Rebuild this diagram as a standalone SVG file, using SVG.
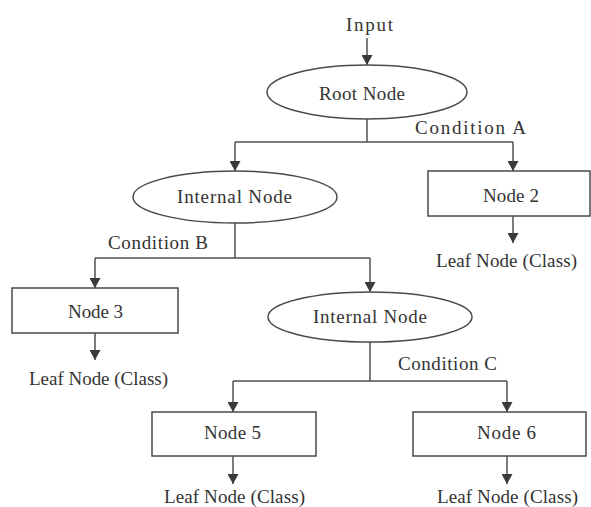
<svg xmlns="http://www.w3.org/2000/svg" width="591" height="507" viewBox="0 0 591 507">
  <style>
    .shape { fill: #ffffff; stroke: #4a4a4a; stroke-width: 1.5; }
    .wire { fill: none; stroke: #505050; stroke-width: 1.5; }
    .lbl { font-family: "Liberation Serif", "Times New Roman", serif; font-size: 19px; fill: #333333; }
  </style>
  <defs>
    <marker id="arrow" viewBox="0 0 10 11" refX="10" refY="5.5" markerWidth="10" markerHeight="11" markerUnits="userSpaceOnUse" orient="auto">
      <path d="M0,0 L10,5.5 L0,11 Z" fill="#3a3a3a"/>
    </marker>
  </defs>

  <rect width="591" height="507" fill="#ffffff"/>

  <!-- connectors -->
  <g id="connectors">
    <line class="wire" x1="367" y1="38" x2="367" y2="65" marker-end="url(#arrow)"/>
    <polyline class="wire" points="367,119 367,142"/>
    <polyline class="wire" points="235,142 513,142"/>
    <line class="wire" x1="235" y1="142" x2="235" y2="171" marker-end="url(#arrow)"/>
    <line class="wire" x1="513" y1="142" x2="513" y2="171" marker-end="url(#arrow)"/>
    <line class="wire" x1="513" y1="216" x2="513" y2="243" marker-end="url(#arrow)"/>

    <polyline class="wire" points="235,223 235,258"/>
    <polyline class="wire" points="95,258 370,258"/>
    <line class="wire" x1="95" y1="258" x2="95" y2="288" marker-end="url(#arrow)"/>
    <line class="wire" x1="370" y1="258" x2="370" y2="292" marker-end="url(#arrow)"/>
    <line class="wire" x1="95" y1="333" x2="95" y2="360" marker-end="url(#arrow)"/>

    <polyline class="wire" points="370,342 370,381"/>
    <polyline class="wire" points="233,381 507,381"/>
    <line class="wire" x1="233" y1="381" x2="233" y2="412" marker-end="url(#arrow)"/>
    <line class="wire" x1="507" y1="381" x2="507" y2="412" marker-end="url(#arrow)"/>
    <line class="wire" x1="233" y1="456" x2="233" y2="484" marker-end="url(#arrow)"/>
    <line class="wire" x1="507" y1="456" x2="507" y2="484" marker-end="url(#arrow)"/>

    <text class="lbl" x="415" y="134" textLength="111" lengthAdjust="spacing">Condition A</text>
    <text class="lbl" x="108" y="249" textLength="100" lengthAdjust="spacing">Condition B</text>
    <text class="lbl" x="398" y="370" textLength="99" lengthAdjust="spacing">Condition C</text>
  </g>

  <g id="input">
    <text class="lbl" x="346" y="31" textLength="47" lengthAdjust="spacing">Input</text>
  </g>

  <g id="root-node">
    <ellipse class="shape" cx="367" cy="92" rx="100" ry="27"/>
    <text class="lbl" x="319" y="100" textLength="86" lengthAdjust="spacing">Root Node</text>
  </g>

  <g id="internal-node-1">
    <ellipse class="shape" cx="235" cy="197" rx="102" ry="26"/>
    <text class="lbl" x="177" y="203" textLength="115" lengthAdjust="spacing">Internal Node</text>
  </g>

  <g id="node-2">
    <rect class="shape" x="428" y="171" width="162" height="45"/>
    <text class="lbl" x="483" y="202" textLength="56" lengthAdjust="spacing">Node 2</text>
    <text class="lbl" x="436" y="267" textLength="141" lengthAdjust="spacing">Leaf Node (Class)</text>
  </g>

  <g id="node-3">
    <rect class="shape" x="12" y="288" width="166" height="45"/>
    <text class="lbl" x="68" y="318" textLength="55" lengthAdjust="spacing">Node 3</text>
    <text class="lbl" x="29" y="385" textLength="139" lengthAdjust="spacing">Leaf Node (Class)</text>
  </g>

  <g id="internal-node-2">
    <ellipse class="shape" cx="370" cy="317" rx="102" ry="25"/>
    <text class="lbl" x="313" y="323" textLength="114" lengthAdjust="spacing">Internal Node</text>
  </g>

  <g id="node-5">
    <rect class="shape" x="152" y="412" width="164" height="44"/>
    <text class="lbl" x="204" y="439" textLength="57" lengthAdjust="spacing">Node 5</text>
    <text class="lbl" x="164" y="503" textLength="141" lengthAdjust="spacing">Leaf Node (Class)</text>
  </g>

  <g id="node-6">
    <rect class="shape" x="413" y="412" width="173" height="44"/>
    <text class="lbl" x="477" y="439" textLength="59" lengthAdjust="spacing">Node 6</text>
    <text class="lbl" x="437" y="503" textLength="141" lengthAdjust="spacing">Leaf Node (Class)</text>
  </g>
</svg>
